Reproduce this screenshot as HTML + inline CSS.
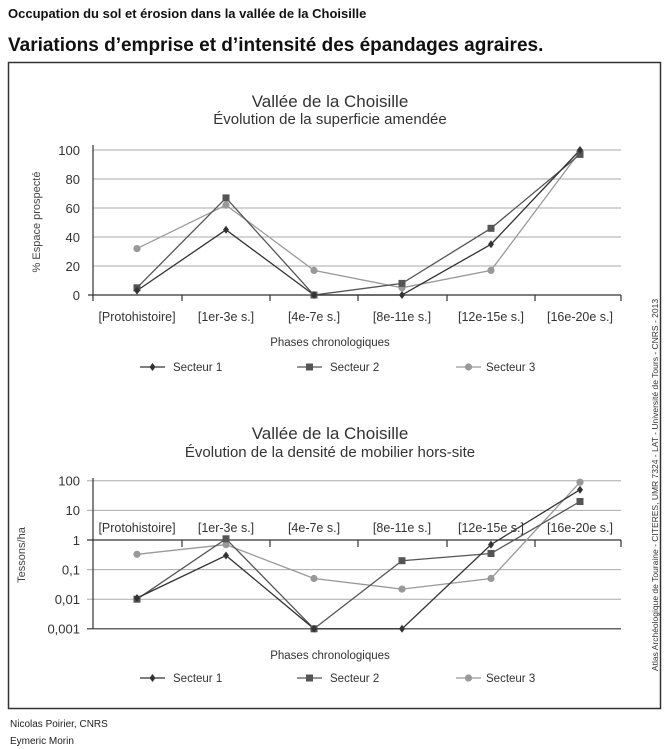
<!DOCTYPE html>
<html><head><meta charset="utf-8"><style>
html,body{margin:0;padding:0;background:#fff;}
svg{display:block;font-family:"Liberation Sans",sans-serif;}
</style></head><body>
<svg width="670" height="749" viewBox="0 0 670 749" xmlns="http://www.w3.org/2000/svg">
<text x="8" y="18" font-size="13" font-weight="bold" fill="#111">Occupation du sol et érosion dans la vallée de la Choisille</text>
<text x="8" y="51" font-size="19" font-weight="bold" fill="#111">Variations d’emprise et d’intensité des épandages agraires.</text>
<rect x="8.5" y="62.5" width="652" height="646" fill="none" stroke="#333" stroke-width="1.5"/>
<text transform="translate(658,485) rotate(-90)" font-size="8.5" fill="#333" text-anchor="middle">Atlas Archéologique de Touraine  - CITERES, UMR 7324 - LAT - Université de Tours - CNRS - 2013</text>
<text x="10" y="727" font-size="10" fill="#222">Nicolas Poirier, CNRS</text>
<text x="10" y="744" font-size="10" fill="#222">Eymeric Morin</text>

<!-- Chart 1 -->
<g fill="#333" text-anchor="middle">
<text x="330" y="107" font-size="17">Vallée de la Choisille</text>
<text x="330" y="124" font-size="15">Évolution de la superficie amendée</text>
</g>
<g stroke="#aaa" stroke-width="1">
<line x1="93" y1="150" x2="621" y2="150"/><line x1="93" y1="179" x2="621" y2="179"/>
<line x1="93" y1="208" x2="621" y2="208"/><line x1="93" y1="237" x2="621" y2="237"/>
<line x1="93" y1="266" x2="621" y2="266"/>
</g>
<g stroke="#333" stroke-width="1.2">
<line x1="93" y1="145" x2="93" y2="301"/><line x1="88" y1="295" x2="621" y2="295"/>
<line x1="182" y1="295" x2="182" y2="301"/><line x1="270" y1="295" x2="270" y2="301"/>
<line x1="358" y1="295" x2="358" y2="301"/><line x1="447" y1="295" x2="447" y2="301"/>
<line x1="535" y1="295" x2="535" y2="301"/><line x1="621" y1="295" x2="621" y2="301"/>
</g>
<g font-size="13" fill="#333" text-anchor="end">
<text x="80" y="155">100</text><text x="80" y="184">80</text><text x="80" y="213">60</text>
<text x="80" y="242">40</text><text x="80" y="271">20</text><text x="80" y="300">0</text>
</g>
<text transform="translate(40,222) rotate(-90)" font-size="11" fill="#444" text-anchor="middle">% Espace prospecté</text>
<g font-size="12.5" fill="#333" text-anchor="middle">
<text x="137" y="321">[Protohistoire]</text><text x="226" y="321">[1er-3e s.]</text>
<text x="314" y="321">[4e-7e s.]</text><text x="402" y="321">[8e-11e s.]</text>
<text x="491" y="321">[12e-15e s.]</text><text x="580" y="321">[16e-20e s.]</text>
<text x="330" y="346" font-size="11.5">Phases chronologiques</text>
</g>
<polyline fill="none" stroke="#999" stroke-width="1.3" points="137,248.6 226,205.1 314,270.4 402,287.8 491,270.4 580,151.5"/>
<polyline fill="none" stroke="#555" stroke-width="1.3" points="137,287.8 226,197.9 314,295 402,283.4 491,228.3 580,154.4"/>
<polyline fill="none" stroke="#333" stroke-width="1.3" points="137,290.6 226,229.8 314,295 402,295 491,244.3 580,150"/>
<g fill="#999"><circle cx="137" cy="248.6" r="3.6"/><circle cx="226" cy="205.1" r="3.6"/><circle cx="314" cy="270.4" r="3.6"/><circle cx="402" cy="287.8" r="3.6"/><circle cx="491" cy="270.4" r="3.6"/><circle cx="580" cy="151.5" r="3.6"/></g>
<g fill="#555"><rect x="133.5" y="284.3" width="7" height="7"/><rect x="222.5" y="194.4" width="7" height="7"/><rect x="310.5" y="291.5" width="7" height="7"/><rect x="398.5" y="279.9" width="7" height="7"/><rect x="487.5" y="224.8" width="7" height="7"/><rect x="576.5" y="150.9" width="7" height="7"/></g>
<g fill="#333"><path d="M137,286.6l3,4l-3,4l-3,-4z"/><path d="M226,225.8l3,4l-3,4l-3,-4z"/><path d="M314,291l3,4l-3,4l-3,-4z"/><path d="M402,291l3,4l-3,4l-3,-4z"/><path d="M491,240.3l3,4l-3,4l-3,-4z"/><path d="M580,146l3,4l-3,4l-3,-4z"/></g>
<!-- legend 1 -->
<g font-size="11.5" fill="#333">
<line x1="140" y1="367" x2="165" y2="367" stroke="#333" stroke-width="1.3"/><path d="M152.5,363l3,4l-3,4l-3,-4z" fill="#333"/><text x="173" y="371">Secteur 1</text>
<line x1="297" y1="367" x2="322" y2="367" stroke="#555" stroke-width="1.3"/><rect x="306" y="363.5" width="7" height="7" fill="#555"/><text x="330" y="371">Secteur 2</text>
<line x1="456" y1="367" x2="481" y2="367" stroke="#999" stroke-width="1.3"/><circle cx="468.5" cy="367" r="3.6" fill="#999"/><text x="486" y="371">Secteur 3</text>
</g>

<!-- Chart 2 -->
<g fill="#333" text-anchor="middle">
<text x="330" y="439" font-size="17">Vallée de la Choisille</text>
<text x="330" y="457" font-size="15">Évolution de la densité de mobilier hors-site</text>
</g>
<g stroke="#aaa" stroke-width="1">
<line x1="87" y1="480.8" x2="621" y2="480.8"/><line x1="87" y1="510.4" x2="621" y2="510.4"/>
<line x1="87" y1="569.6" x2="621" y2="569.6"/><line x1="87" y1="599.2" x2="621" y2="599.2"/>
</g>
<g stroke="#333" stroke-width="1.2">
<line x1="93" y1="478" x2="93" y2="629"/><line x1="87" y1="628.8" x2="621" y2="628.8"/>
<line x1="87" y1="540" x2="621" y2="540"/>
<line x1="182" y1="540" x2="182" y2="547"/><line x1="270" y1="540" x2="270" y2="547"/>
<line x1="358" y1="540" x2="358" y2="547"/><line x1="447" y1="540" x2="447" y2="547"/>
<line x1="535" y1="540" x2="535" y2="547"/><line x1="621" y1="540" x2="621" y2="547"/>
</g>
<g font-size="13" fill="#333" text-anchor="end">
<text x="80" y="485.5">100</text><text x="80" y="515">10</text><text x="80" y="545">1</text>
<text x="80" y="574.5">0,1</text><text x="80" y="604">0,01</text><text x="80" y="633.5">0,001</text>
</g>
<text transform="translate(25,555) rotate(-90)" font-size="11" fill="#444" text-anchor="middle">Tessons/ha</text>
<g font-size="12.5" fill="#333" text-anchor="middle">
<text x="137" y="532">[Protohistoire]</text><text x="226" y="532">[1er-3e s.]</text>
<text x="314" y="532">[4e-7e s.]</text><text x="402" y="532">[8e-11e s.]</text>
<text x="491" y="532">[12e-15e s.]</text><text x="580" y="532">[16e-20e s.]</text>
<text x="330" y="659" font-size="11.5">Phases chronologiques</text>
</g>
<polyline fill="none" stroke="#999" stroke-width="1.3" points="137,554.3 226,544.6 314,578.5 402,589.1 491,578.5 580,482.2"/>
<polyline fill="none" stroke="#555" stroke-width="1.3" points="137,599.2 226,538.8 314,628.8 402,560.7 491,553.5 580,501.5"/>
<polyline fill="none" stroke="#333" stroke-width="1.3" points="137,598 226,555.5 314,628.8 402,628.8 491,544.6 580,489.7"/>
<g fill="#999"><circle cx="137" cy="554.3" r="3.6"/><circle cx="226" cy="544.6" r="3.6"/><circle cx="314" cy="578.5" r="3.6"/><circle cx="402" cy="589.1" r="3.6"/><circle cx="491" cy="578.5" r="3.6"/><circle cx="580" cy="482.2" r="3.6"/></g>
<g fill="#555"><rect x="133.5" y="595.7" width="7" height="7"/><rect x="222.5" y="535.3" width="7" height="7"/><rect x="310.5" y="625.3" width="7" height="7"/><rect x="398.5" y="557.2" width="7" height="7"/><rect x="487.5" y="550" width="7" height="7"/><rect x="576.5" y="498" width="7" height="7"/></g>
<g fill="#333"><path d="M137,594l3,4l-3,4l-3,-4z"/><path d="M226,551.5l3,4l-3,4l-3,-4z"/><path d="M314,624.8l3,4l-3,4l-3,-4z"/><path d="M402,624.8l3,4l-3,4l-3,-4z"/><path d="M491,540.6l3,4l-3,4l-3,-4z"/><path d="M580,485.7l3,4l-3,4l-3,-4z"/></g>
<g font-size="11.5" fill="#333">
<line x1="140" y1="678" x2="165" y2="678" stroke="#333" stroke-width="1.3"/><path d="M152.5,674l3,4l-3,4l-3,-4z" fill="#333"/><text x="173" y="682">Secteur 1</text>
<line x1="297" y1="678" x2="322" y2="678" stroke="#555" stroke-width="1.3"/><rect x="306" y="674.5" width="7" height="7" fill="#555"/><text x="330" y="682">Secteur 2</text>
<line x1="456" y1="678" x2="481" y2="678" stroke="#999" stroke-width="1.3"/><circle cx="468.5" cy="678" r="3.6" fill="#999"/><text x="486" y="682">Secteur 3</text>
</g>
</svg>
</body></html>
